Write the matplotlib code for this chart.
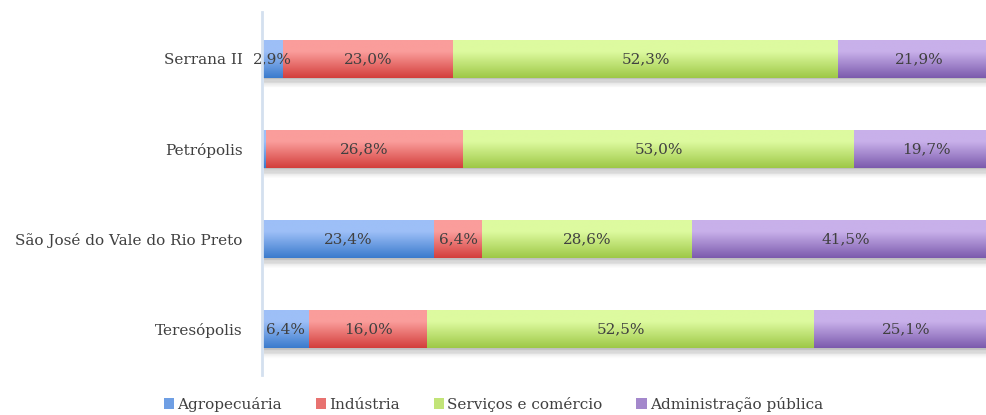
import matplotlib.pyplot as plt
import numpy as np
from matplotlib.colors import LinearSegmentedColormap

cidades = ["Teresópolis", "São José do Vale do Rio Preto", "Petrópolis", "Serrana II"]
setores = ["Agropecuária", "Indústria", "Serviços e comércio", "Administração pública"]
agro = [6.4, 23.4, 0.5, 2.9]
industria = [16.0, 6.4, 26.8, 23.0]
servicos = [52.5, 28.6, 53.0, 52.3]
admin = [25.1, 41.5, 19.7, 21.9]

# top (light) -> mid -> bottom (dark) gradient per sector
cores = [("#9dbff7", "#6f9fe4", "#3b7bcd"), ("#fa9d9b", "#e87270", "#d33f3c"),
         ("#ddfa9f", "#c2e478", "#9ec847"), ("#c8b0ea", "#a488cc", "#7c5bad")]

plt.rcParams["font.family"] = ["DejaVu Serif"]
fig = plt.figure(figsize=(9.87, 4.15), dpi=100)
ax = fig.add_axes([262 / 987, 1 - 375 / 415, 737 / 987, 363 / 415])

y = np.arange(len(cidades))
h = 0.42
valores = [agro, industria, servicos, admin]

# soft shadow under the bars
total = np.array(agro) + np.array(industria) + np.array(servicos) + np.array(admin)
for k in range(14):
    ax.barh(y - h / 2 - 0.009 * k + 0.02, total, height=0.04, left=0.3,
            color="#000000", alpha=0.07 * (1 - k / 14), zorder=1, linewidth=0)

grad = np.linspace(0, 1, 64).reshape(-1, 1)
left = np.zeros(len(cidades))
for serie, (c1, cm, c2), nome in zip(valores, cores, setores):
    cmap = LinearSegmentedColormap.from_list(nome, [(0, c1), (0.3, c1), (1, c2)])
    bars = ax.barh(y, serie, left=left, height=h, color=cm, label=nome,
                   linewidth=0, zorder=2)
    for b in bars:
        x0, y0 = b.get_x(), b.get_y()
        im = ax.imshow(grad, cmap=cmap, aspect="auto", zorder=3,
                       extent=[x0, x0 + b.get_width(), y0, y0 + b.get_height()],
                       origin="upper")
        im.set_clip_path(b)
    for i, v in enumerate(serie):
        if v >= 1:
            ax.text(left[i] + v / 2, y[i], f"{v:.1f}%".replace(".", ","),
                    ha="center", va="center", fontsize=11, color="#404040", zorder=5)
    left = left + np.array(serie)

ax.set_xlim(0, 100)
ax.set_ylim(-0.51, 3.52)
ax.set_yticks(y)
ax.set_yticklabels(cidades, fontsize=11, color="#404040")
ax.tick_params(axis="y", length=0, pad=14)
ax.set_xticks([])
for s in ["top", "right", "bottom"]:
    ax.spines[s].set_visible(False)
ax.spines["left"].set_color("#d4e0ef")
ax.spines["left"].set_linewidth(2)
ax.spines["left"].set_zorder(6)

fig.legend(loc="lower center", bbox_to_anchor=(0.5, -0.025), ncol=4, frameon=False,
           fontsize=11, handlelength=0.7, handleheight=0.7, handletextpad=0.2,
           columnspacing=2.2, labelcolor="#404040")

fig.savefig("out.png", dpi=100)
